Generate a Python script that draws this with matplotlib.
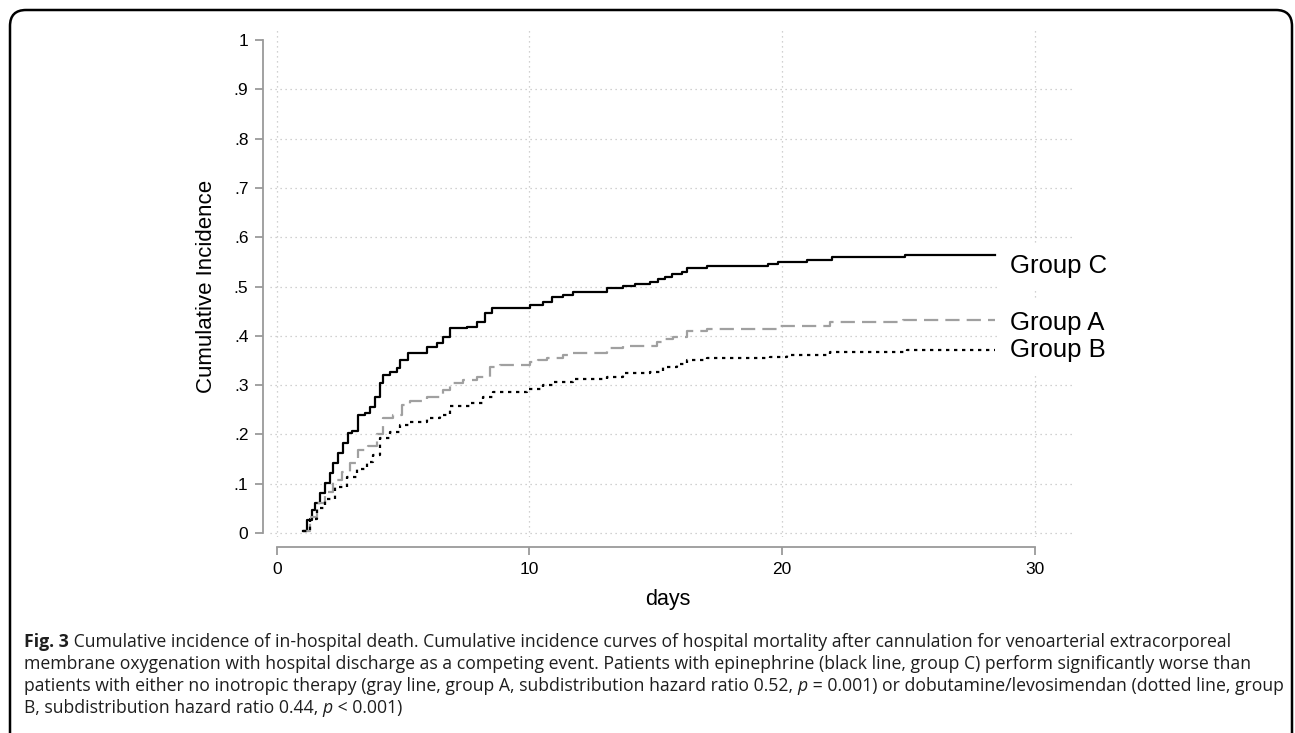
import matplotlib
matplotlib.use("Agg")
import matplotlib.pyplot as plt
from matplotlib.patches import FancyBboxPatch
from matplotlib.transforms import IdentityTransform
from matplotlib.text import Annotation

# ---------------- data ----------------
C_days = [1.05, 1.19, 1.38, 1.52, 1.71, 1.91, 2.11, 2.24, 2.44, 2.64, 2.83, 2.97, 3.23, 3.49, 3.69, 3.89,
          4.09, 4.22, 4.48, 4.75, 4.88, 5.21, 5.94, 6.33, 6.59, 6.86, 7.52, 7.91, 8.24, 8.51, 10.02, 10.55,
          10.88, 11.34, 11.74, 13.06, 13.72, 14.18, 14.77, 15.10, 15.37, 15.63, 16.03, 16.22, 17.01, 19.45,
          19.85, 20.97, 21.96, 24.86, 28.42]
C_vals = [0.004, 0.026, 0.047, 0.060, 0.081, 0.101, 0.121, 0.141, 0.162, 0.182, 0.202, 0.207, 0.239, 0.243,
          0.256, 0.276, 0.304, 0.320, 0.327, 0.334, 0.351, 0.366, 0.378, 0.386, 0.398, 0.415, 0.418, 0.429,
          0.446, 0.456, 0.462, 0.469, 0.479, 0.483, 0.488, 0.496, 0.501, 0.506, 0.510, 0.515, 0.520, 0.525,
          0.529, 0.537, 0.542, 0.546, 0.550, 0.554, 0.559, 0.564, 0.564]

A_days = [1.05, 1.32, 1.58, 1.91, 2.24, 2.57, 2.90, 3.23, 3.62, 3.96, 4.22, 4.61, 4.95, 5.28, 5.94, 6.59,
          6.86, 7.39, 7.91, 8.44, 8.84, 10.02, 10.35, 10.68, 11.34, 11.74, 13.06, 13.72, 15.04, 15.30,
          15.69, 16.22, 17.01, 19.85, 21.9, 24.80, 28.42]
A_vals = [0.004, 0.033, 0.060, 0.084, 0.108, 0.124, 0.143, 0.168, 0.176, 0.200, 0.233, 0.239, 0.260, 0.268,
          0.276, 0.290, 0.304, 0.310, 0.317, 0.337, 0.341, 0.347, 0.351, 0.354, 0.361, 0.366, 0.375, 0.379,
          0.388, 0.394, 0.398, 0.410, 0.413, 0.420, 0.428, 0.433, 0.433]

B_days = [1.05, 1.32, 1.58, 1.91, 2.31, 2.77, 3.17, 3.56, 3.82, 4.09, 4.48, 4.88, 5.28, 5.94, 6.46, 6.86,
          7.65, 8.18, 8.57, 9.89, 10.55, 10.95, 11.74, 13.06, 13.72, 14.77, 15.30, 15.83, 16.22, 17.01,
          19.52, 20.18, 21.9, 24.93, 28.42]
B_vals = [0.004, 0.028, 0.050, 0.068, 0.094, 0.114, 0.130, 0.145, 0.158, 0.192, 0.205, 0.220, 0.226, 0.233,
          0.239, 0.258, 0.264, 0.276, 0.287, 0.293, 0.300, 0.307, 0.312, 0.317, 0.324, 0.327, 0.336, 0.343,
          0.351, 0.354, 0.358, 0.362, 0.368, 0.371, 0.371]

group_labels = ["Group C", "Group A", "Group B"]
label_y = [0.541, 0.426, 0.371]

y_ticks = [0, 0.1, 0.2, 0.3, 0.4, 0.5, 0.6, 0.7, 0.8, 0.9, 1.0]
y_ticklabels = ["0", ".1", ".2", ".3", ".4", ".5", ".6", ".7", ".8", ".9", "1"]
x_ticks = [0, 10, 20, 30]
x_ticklabels = ["0", "10", "20", "30"]
y_grid = [0, 0.1, 0.2, 0.3, 0.4, 0.5, 0.6, 0.7, 0.8, 0.9]

caption_lines = [
    [("Fig. 3", "bold", "normal"),
     (" Cumulative incidence of in-hospital death. Cumulative incidence curves of hospital mortality after "
      "cannulation for venoarterial extracorporeal", "normal", "normal")],
    [("membrane oxygenation with hospital discharge as a competing event. Patients with epinephrine "
      "(black line, group C) perform significantly worse than", "normal", "normal")],
    [("patients with either no inotropic therapy (gray line, group A, subdistribution hazard ratio 0.52, ",
      "normal", "normal"), ("p", "normal", "italic"),
     (" = 0.001) or dobutamine/levosimendan (dotted line, group", "normal", "normal")],
    [("B, subdistribution hazard ratio 0.44, ", "normal", "normal"), ("p", "normal", "italic"),
     (" < 0.001)", "normal", "normal")],
]

# ---------------- figure ----------------
W, H = 1295, 733
fig = plt.figure(figsize=(W / 100, H / 100), dpi=100)
fig.patch.set_facecolor("white")

frame = FancyBboxPatch((10, -40), 1282, H - 10 + 40, boxstyle="round,pad=0,rounding_size=16",
                       transform=IdentityTransform(), fc="none", ec="black", lw=1.8)
fig.patches.append(frame)

L, R, T, B = 270, 1072, 27, 537
ax = fig.add_axes([L / W, 1 - B / H, (R - L) / W, (B - T) / H])
px_day = 25.27
x0px = 276.7
y0px, ypx = 533, 493
ax.set_xlim((L - x0px) / px_day, (R - x0px) / px_day)
ax.set_ylim((y0px - B) / ypx, (y0px - T) / ypx)

grid_kw = dict(color="#c2c2c2", lw=0.9, ls=(0, (1, 3)), zorder=0.5)
for g in y_grid:
    ax.axhline(g, **grid_kw)
for g in x_ticks:
    ax.axvline(g, **grid_kw)

ax.step(C_days, C_vals, where="post", color="black", lw=1.6, zorder=4)
ax.step(A_days, A_vals, where="post", color="#a0a0a0", lw=1.6, ls=(0, (6.4, 3.2)), zorder=4)
ax.step(B_days, B_vals, where="post", color="black", lw=1.6, ls=(0, (1.5, 2.1)), zorder=4)

lab_x = (1010 - x0px) / px_day
lab_fs = 18.5
for lab, yv in zip(group_labels, label_y):
    ax.text(lab_x, yv, lab, fontsize=lab_fs, family="Liberation Sans", va="center", ha="left", zorder=2.8,
            color="white", bbox=dict(boxstyle="square,pad=0.45", fc="white", ec="none"))
for lab, yv in zip(group_labels, label_y):
    ax.text(lab_x, yv, lab, fontsize=lab_fs, family="Liberation Sans", va="center", ha="left", zorder=3,
            color="black")

for s in ["top", "right"]:
    ax.spines[s].set_visible(False)
ax.spines["left"].set_position(("outward", 5.0))
ax.spines["bottom"].set_position(("outward", 7.2))
ax.spines["left"].set_bounds(0, 1)
ax.spines["bottom"].set_bounds(0, 30)
for s in ["left", "bottom"]:
    ax.spines[s].set_color("#9a9a9a")
    ax.spines[s].set_linewidth(1.3)

ax.set_yticks(y_ticks)
ax.set_yticklabels(y_ticklabels)
ax.set_xticks(x_ticks)
ax.set_xticklabels(x_ticklabels)
ax.tick_params(axis="both", colors="#9a9a9a", length=6, width=1.3, labelcolor="black", labelsize=12.5,
               pad=4.5)
for lbl in ax.get_xticklabels() + ax.get_yticklabels():
    lbl.set_family("Liberation Sans")
ax.patch.set_alpha(0)

ax.set_ylabel("Cumulative Incidence", fontsize=16, family="Liberation Sans")
ax.yaxis.set_label_coords((217 - L) / (R - L), (B - 286) / (B - T))
ax.set_xlabel("days", fontsize=15.5, family="Liberation Sans")
ax.xaxis.set_label_coords((668 - L) / (R - L), (B - 589) / (B - T))

# caption
cap_x = 24
cap_y = [642, 664, 686, 708]
cap_fs = 12.7
cap_kw = dict(fontsize=cap_fs, family="Open Sans", color="#1e1e1e")
for line, yy in zip(caption_lines, cap_y):
    txt, wt, st = line[0]
    prev = fig.text(cap_x / W, 1 - yy / H, txt, weight=wt, style=st, va="center", ha="left", **cap_kw)
    for txt, wt, st in line[1:]:
        prev = fig.add_artist(Annotation(txt, xy=(1, 0), xycoords=prev, xytext=(0, 0),
                                         textcoords="offset points", va="bottom", ha="left",
                                         weight=wt, style=st, **cap_kw))

fig.savefig("out.png", dpi=100, facecolor="white")
